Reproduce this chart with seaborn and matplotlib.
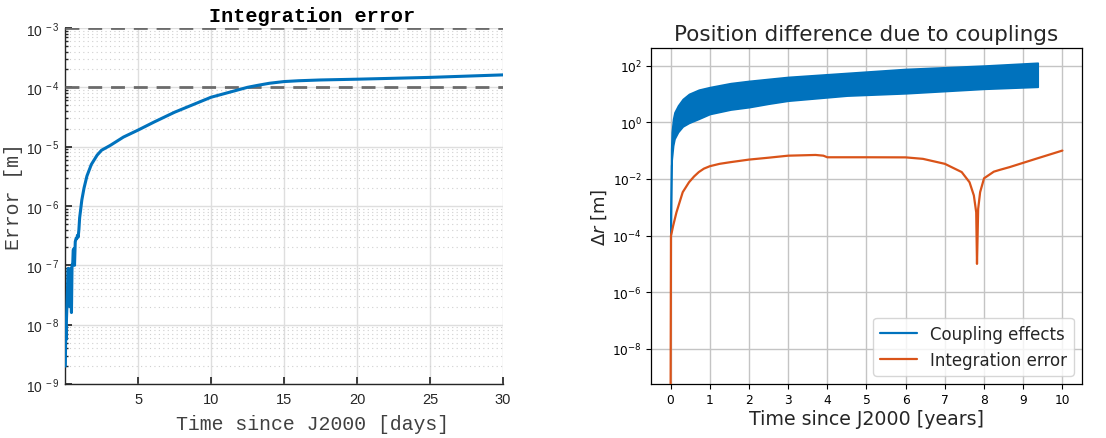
import numpy as np
import pandas as pd
import matplotlib
matplotlib.use("Agg")
import matplotlib.pyplot as plt
import seaborn as sns
from matplotlib.ticker import FixedLocator, FixedFormatter, LogLocator, NullFormatter, NullLocator
from matplotlib.lines import Line2D

# ---------------- data: left panel (days) ----------------
left_t_days = [0.02, 0.04, 0.05, 0.07, 0.10, 0.14, 0.18, 0.22, 0.26, 0.30, 0.34,
               0.39, 0.44, 0.48, 0.53, 0.56, 0.60, 0.65, 0.70, 0.75, 0.80, 0.85,
               0.90, 0.95, 1.00, 1.05, 1.15, 1.3, 1.5, 1.8, 2.0, 2.2, 2.5, 3.1, 4.0, 5.0,
               6.1, 7.5, 10.0, 11.6, 12.5, 13.2, 14.0, 15.0, 16.0, 17.5, 20.0, 25.0, 30.0]
left_error = [2.0e-9, 5.0e-9, 1.0e-8, 5.6e-9, 1.26e-8, 2.5e-8, 5.0e-8, 8.9e-8, 2.2e-8,
              7.9e-8, 2.0e-8, 8.9e-8, 1.6e-8, 1.0e-7, 1.1e-7, 1.8e-7,
              1.9e-7, 1.0e-7, 2.5e-7, 2.8e-7, 2.8e-7, 3.2e-7, 3.0e-7, 4.0e-7, 6.3e-7, 7.9e-7,
              1.26e-6, 2.0e-6, 3.2e-6, 5.0e-6, 6.0e-6, 7.2e-6, 8.7e-6, 1.05e-5, 1.45e-5, 1.9e-5,
              2.6e-5, 3.8e-5, 6.8e-5, 8.7e-5, 1.0e-4, 1.08e-4, 1.17e-4, 1.25e-4, 1.29e-4,
              1.33e-4, 1.37e-4, 1.47e-4, 1.62e-4]
left_thresholds = [1e-3, 1e-4]
left_xticks = [5, 10, 15, 20, 25, 30]
left_yticks = [1e-9, 1e-8, 1e-7, 1e-6, 1e-5, 1e-4, 1e-3]
left_ytick_labels = ["-9", "-8", "-7", "-6", "-5", "-4", "-3"]

# ---------------- data: right panel (years) ----------------
coupling_t = [0.0, 0.016, 0.03, 0.065, 0.1, 0.19, 0.31, 0.47, 0.72, 1.0, 1.53, 2.0, 2.5,
              3.0, 4.5, 6.0, 8.0, 9.37]
coupling_lower = [3e-5, 0.03, 0.05, 0.15, 0.26, 0.45, 0.71, 0.95, 1.32, 1.95, 2.8, 3.4,
                  4.5, 5.75, 8.7, 10.5, 15.1, 17.8]
coupling_upper = [3e-5, 0.115, 0.45, 1.32, 2.24, 3.9, 6.6, 10.0, 14.1, 17.4, 24.0, 28.8,
                  33.9, 39.8, 55.0, 76.0, 100.0, 126.0]

integ_t = [0.0, 0.01, 0.03, 0.065, 0.15, 0.23, 0.31, 0.47, 0.6, 0.72, 0.85, 1.0, 1.25, 1.53,
           2.0, 2.5, 3.0, 3.7, 3.9, 4.0, 5.0, 6.0, 6.44, 7.0, 7.43, 7.63, 7.74, 7.8, 7.82,
           7.85, 7.9, 8.0, 8.25, 8.41, 8.65, 9.32, 10.0]
integ_err = [1e-10, 1.0e-4, 1.3e-4, 2.2e-4, 6.6e-4, 1.5e-3, 3.4e-3, 7.6e-3, 1.22e-2, 1.74e-2,
             2.3e-2, 2.8e-2, 3.4e-2, 3.9e-2, 4.8e-2, 5.6e-2, 6.6e-2, 7.0e-2, 6.6e-2, 5.8e-2,
             5.8e-2, 5.75e-2, 5.1e-2, 3.4e-2, 1.74e-2, 7.6e-3, 2.6e-3, 6.6e-4, 1.0e-5, 8.7e-4,
             3.4e-3, 1.05e-2, 1.8e-2, 2.1e-2, 2.6e-2, 5.1e-2, 1.0e-1]
right_xticks = [0, 1, 2, 3, 4, 5, 6, 7, 8, 9, 10]
right_yticks = [1e-8, 1e-6, 1e-4, 1e-2, 1e0, 1e2]

MAT_BLUE = "#0072BD"
MAT_ORANGE = "#D95319"

sns.set_theme(style="white")
plt.rcParams["font.family"] = ["DejaVu Sans"]

fig = plt.figure(figsize=(11.06, 4.39), dpi=100)

# ================= left panel =================
axL = fig.add_axes([0.0588, 0.123, 0.396, 0.811])
dfL = pd.DataFrame({"t": left_t_days, "err": left_error})
for y in left_thresholds:
    axL.axhline(y, color="#6b6b6b", lw=2.0, ls=(0, (5, 3.2)), zorder=3)
sns.lineplot(data=dfL, x="t", y="err", ax=axL, color=MAT_BLUE, lw=2.2,
             estimator=None, sort=False, zorder=4)
axL.set_yscale("log")
axL.set_xlim(0, 30)
axL.set_ylim(1e-9, 1e-3)
axL.yaxis.set_major_locator(FixedLocator(left_yticks))
axL.yaxis.set_major_formatter(FixedFormatter(
    [r"$\mathregular{10^{\,%s}}$" % s for s in left_ytick_labels]))
axL.yaxis.set_minor_locator(LogLocator(base=10, subs=np.arange(2, 10), numticks=20))
axL.yaxis.set_minor_formatter(NullFormatter())
axL.xaxis.set_major_locator(FixedLocator(left_xticks))
axL.grid(True, which="major", color="#dedede", lw=1.0)
axL.grid(True, which="minor", axis="y", color="#cfcfcf", lw=0.8, ls=(0, (1, 3)))
for s in ["top", "right"]:
    axL.spines[s].set_visible(False)
for s in ["left", "bottom"]:
    axL.spines[s].set_color("#262626")
    axL.spines[s].set_linewidth(1.0)
axL.tick_params(axis="both", which="both", direction="in", colors="#262626",
                left=True, bottom=True, top=False, right=False)
axL.tick_params(axis="x", which="major", length=5, labelsize=10.5, pad=6)
axL.tick_params(axis="y", which="major", length=5, labelsize=10, pad=4)
axL.tick_params(axis="y", which="minor", length=2.5)
for lab in axL.get_xticklabels() + axL.get_yticklabels():
    lab.set_fontfamily("Liberation Sans")
axL.set_title("Integration error", fontfamily="Liberation Mono", fontweight="bold",
              fontsize=14.5, color="black", pad=5, x=0.565)
axL.set_xlabel("Time since J2000 [days]", fontfamily="Liberation Mono", fontsize=14.3,
               color="#404040", labelpad=4)
axL.xaxis.set_label_coords(0.565, -0.085)
axL.set_ylabel("Error [m]", fontfamily="Liberation Mono", fontsize=14.3,
               color="#404040")
axL.yaxis.set_label_coords(-0.097, 0.53)

# ================= right panel =================
axR = fig.add_axes([0.5886, 0.123, 0.3897, 0.7647])
dfC = pd.DataFrame({"t": coupling_t, "lo": coupling_lower, "hi": coupling_upper})
dfI = pd.DataFrame({"t": integ_t, "err": integ_err})
axR.fill_between(dfC["t"], dfC["lo"], dfC["hi"], color=MAT_BLUE, lw=1.2,
                 edgecolor=MAT_BLUE, zorder=3)
sns.lineplot(data=dfI, x="t", y="err", ax=axR, color=MAT_ORANGE, lw=1.6,
             estimator=None, sort=False, zorder=4)
axR.set_yscale("log")
axR.set_xlim(-0.5, 10.5)
axR.set_ylim(10 ** -9.24, 10 ** 2.61)
axR.xaxis.set_major_locator(FixedLocator(right_xticks))
axR.yaxis.set_major_locator(FixedLocator(right_yticks))
axR.yaxis.set_minor_locator(NullLocator())
axR.grid(True, which="major", color="#c4c4c4", lw=1.0)
for s in axR.spines.values():
    s.set_color("black")
    s.set_linewidth(0.9)
    s.set_visible(True)
axR.tick_params(axis="both", which="major", direction="out", length=3.5, width=0.8,
                labelsize=8.8, colors="black", left=True, bottom=True, pad=3)
axR.set_title("Position difference due to couplings", fontsize=15.5, pad=6)
axR.set_xlabel("Time since J2000 [years]", fontsize=13.7, labelpad=2)
axR.set_ylabel(r"$\Delta r$ [m]", fontsize=13, labelpad=2)
handles = [Line2D([0], [0], color=MAT_BLUE, lw=1.6),
           Line2D([0], [0], color=MAT_ORANGE, lw=1.6)]
axR.legend(handles, ["Coupling effects", "Integration error"], loc="lower right",
           fontsize=12, frameon=True, framealpha=0.8, edgecolor="#cccccc",
           handlelength=2.2, borderpad=0.4, labelspacing=0.5)

fig.savefig("out.png", dpi=100)
